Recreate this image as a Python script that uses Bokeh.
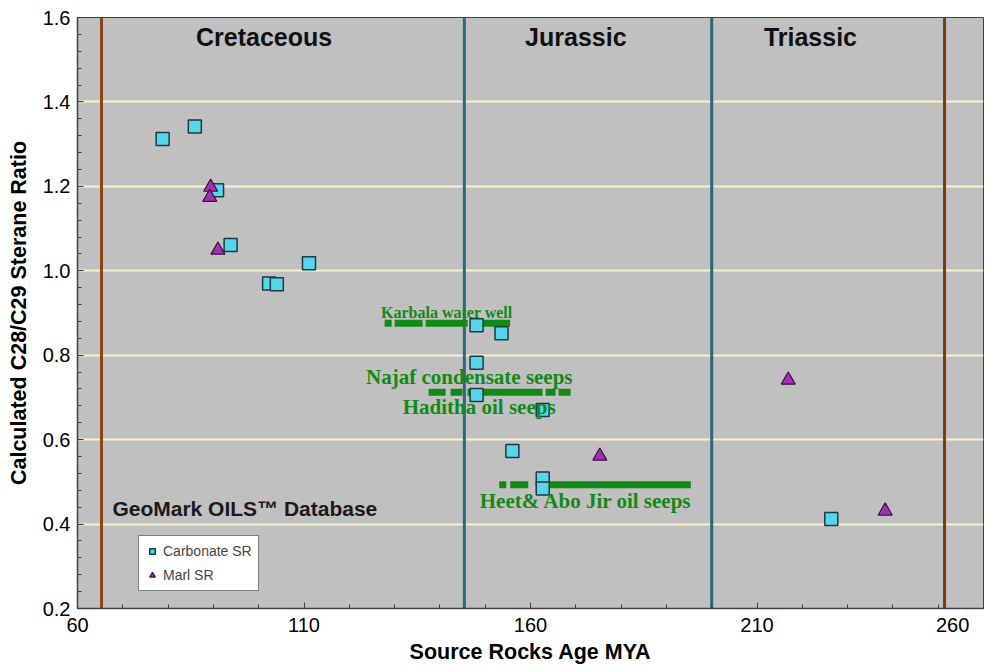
from bokeh.plotting import figure
from bokeh.models import (Span, Label, FixedTicker, Range1d, AllLabels,
                          PrintfTickFormatter)
from bokeh.embed import file_html
from bokeh.resources import INLINE

# Source-rock age (Ma) and calculated C28/C29 sterane ratio
carbonate_age = [78.8, 85.9, 90.8, 93.8, 102.3, 104.0, 111.1, 148.1, 153.6,
                 148.1, 148.1, 162.7, 156.0, 162.7, 162.7, 226.4]
carbonate_ratio = [1.312, 1.342, 1.191, 1.061, 0.970, 0.968, 1.018, 0.871, 0.852,
                   0.782, 0.706, 0.670, 0.573, 0.508, 0.484, 0.412]

marl_age = [89.4, 89.2, 91.0, 175.3, 216.9, 238.3]
marl_ratio = [1.198, 1.174, 1.049, 0.561, 0.741, 0.431]

# Seep / well samples: ratio and the age span they match
seep_ratio = [0.876, 0.712, 0.493]
seep_age_from = [127.8, 137.5, 153.1]
seep_age_to = [155.5, 169.1, 195.4]
seep_dash = ["7 3 28 3 42 3 60", "17 5 12 5 75 3 10 3 12", "7 4 18 8 200"]

# Period boundaries (Ma)
boundary_age = [65.3, 145.4, 200.0, 251.4]
boundary_color = ["#8a4418", "#2e6878", "#2e6878", "#7a3a14"]
period_names = ["Cretaceous", "Jurassic", "Triassic"]
period_label_age = [101.2, 170.0, 221.8]

x_ticks = [60, 110, 160, 210, 260]
y_ticks = [0.2, 0.4, 0.6, 0.8, 1.0, 1.2, 1.4, 1.6]

SANS = "Liberation Sans"
SERIF = "Liberation Serif"
GREEN = "#138a17"

p = figure(width=991, height=666,
           x_range=Range1d(60, 260), y_range=Range1d(0.2, 1.6),
           output_backend="svg", toolbar_location=None,
           min_border_left=77, min_border_right=8,
           min_border_top=17, min_border_bottom=58,
           background_fill_color="#c0c0c0", border_fill_color="white",
           outline_line_color="#404040", outline_line_width=1)

p.xaxis.ticker = FixedTicker(ticks=x_ticks, minor_ticks=list(range(60, 261, 10)))
p.yaxis.ticker = FixedTicker(ticks=y_ticks,
                             minor_ticks=[round(0.2 + 0.04 * i, 2) for i in range(36)])
p.xaxis.formatter = PrintfTickFormatter(format="%d")
p.yaxis.formatter = PrintfTickFormatter(format="%.1f")
# the last x label sits at the page edge: pad it so its digits move inward
p.xaxis.major_label_overrides = {x_ticks[-1]: str(x_ticks[-1]) + "\u00a0" * 4}
for ax in (p.xaxis, p.yaxis):
    ax.major_label_policy = AllLabels()
    ax.major_tick_in = 6
    ax.major_tick_out = 0
    ax.minor_tick_in = 4
    ax.minor_tick_out = 0
    ax.axis_line_color = "#404040"
    ax.axis_line_width = 1.5
    ax.major_tick_line_color = "#404040"
    ax.minor_tick_line_color = "#404040"
    ax.major_label_text_font = SANS
    ax.major_label_text_font_size = "20px"
    ax.major_label_text_color = "black"
    ax.axis_label_text_font = SANS
    ax.axis_label_text_font_style = "bold"
    ax.axis_label_text_font_size = "21.5px"
    ax.axis_label_text_color = "black"

p.xaxis.axis_label = "Source Rocks Age MYA"
p.yaxis.axis_label = "Calculated C28/C29 Sterane Ratio"
p.xaxis.major_label_standoff = 5
p.xaxis.axis_label_standoff = 1
p.yaxis.major_label_standoff = 7
p.yaxis.axis_label_standoff = 9

p.xgrid.visible = False
p.ygrid.grid_line_color = "#f2f2cc"
p.ygrid.grid_line_width = 2

# period boundaries
for age, col in zip(boundary_age, boundary_color):
    p.add_layout(Span(location=age, dimension="height", line_color=col,
                      line_width=3, level="underlay"))

# seep sample ranges
for r, a0, a1, dash in zip(seep_ratio, seep_age_from, seep_age_to, seep_dash):
    p.segment(x0=[a0], y0=[r], x1=[a1], y1=[r], line_color=GREEN,
              line_width=7, line_dash=dash, line_cap="butt")

p.scatter(carbonate_age, carbonate_ratio, marker="square", size=13,
          fill_color="#55d6ea", line_color="#1e3a46", line_width=1.5,
          legend_label="Carbonate SR")
p.scatter(marl_age, marl_ratio, marker="triangle", size=14,
          fill_color="#a232b4", line_color="#3a1040", line_width=1.2,
          legend_label="Marl SR")

# period names
for name, age in zip(period_names, period_label_age):
    p.add_layout(Label(x=age, y=1.553, text=name, text_align="center",
                       text_baseline="middle", text_font=SANS,
                       text_font_style="bold", text_font_size="25px",
                       text_color="#111111"))

p.add_layout(Label(x=67.7, y=0.436, text="GeoMark OILS\u2122 Database",
                   text_align="left", text_baseline="middle", text_font=SANS,
                   text_font_style="bold", text_font_size="21px",
                   text_color="#1a1a1a"))

# seep labels
seep_labels = [
    ("Karbala water well", 127.0, 0.901, "16px"),
    ("Najaf condensate seeps", 123.7, 0.748, "21px"),
    ("Haditha oil seeps", 131.8, 0.677, "21px"),
    ("Heet& Abo Jir oil seeps", 148.8, 0.455, "21px"),
]
for txt, x, y, fs in seep_labels:
    p.add_layout(Label(x=x, y=y, text=txt, text_align="left", text_baseline="middle",
                       text_font=SERIF, text_font_style="bold", text_font_size=fs,
                       text_color=GREEN))

lg = p.legend[0]
lg.location = (61, 17)
lg.margin = 0
lg.padding = 6
lg.spacing = 6
lg.label_height = 18
lg.glyph_height = 14
lg.glyph_width = 14
lg.label_standoff = 4
lg.label_text_font = SANS
lg.label_text_font_size = "14px"
lg.border_line_color = "black"
lg.border_line_width = 1
lg.background_fill_color = "white"
lg.background_fill_alpha = 1

open("out.html", "w").write(file_html(p, INLINE))
